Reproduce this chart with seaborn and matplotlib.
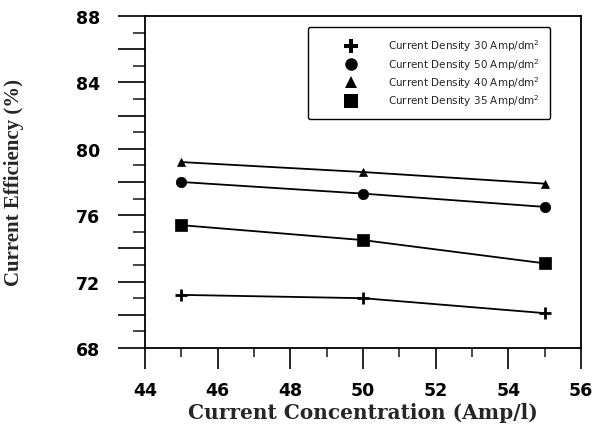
import matplotlib
matplotlib.use("Agg")
import matplotlib.pyplot as plt
from matplotlib.lines import Line2D
from matplotlib.ticker import MultipleLocator, FuncFormatter
import seaborn as sns
import pandas as pd

# ---- data ----
concentration = [45, 50, 55]
cd30 = [71.2, 71.0, 70.1]
cd50 = [78.0, 77.3, 76.5]
cd40 = [79.2, 78.6, 77.9]
cd35 = [75.4, 74.5, 73.1]
series_labels = [
    "Current Density 30 Amp/dm$^2$",
    "Current Density 50 Amp/dm$^2$",
    "Current Density 40 Amp/dm$^2$",
    "Current Density 35 Amp/dm$^2$",
]
series_values = [cd30, cd50, cd40, cd35]
x_ticks = [44, 46, 48, 50, 52, 54, 56]
y_ticks = [68, 72, 76, 80, 84, 88]

# styles
plot_markers = ["+", "o", "^", "s"]
plot_sizes = [9, 7.5, 6, 9]
plot_mew = [2.0, 0.5, 0.5, 0.5]
legend_markers = ["P", "o", "^", "s"]
legend_sizes = [10, 9, 9, 9.5]

sns.set_style("ticks")
plt.rcParams["font.family"] = ["DejaVu Sans"]

fig = plt.figure(figsize=(5.99, 4.27), dpi=100)
ax = fig.add_axes([145 / 599, 1 - 349 / 427, 436 / 599, 332 / 427])

for lab, vals, m, ms, mew in zip(series_labels, series_values, plot_markers,
                                 plot_sizes, plot_mew):
    df = pd.DataFrame({"x": concentration, "y": vals})
    sns.lineplot(data=df, x="x", y="y", ax=ax, color="black", linewidth=1.3,
                 marker=m, markersize=ms, markeredgecolor="black",
                 markerfacecolor="black", markeredgewidth=mew,
                 legend=False)

ax.set_xlim(44, 56)
ax.set_ylim(68, 88)

ax.xaxis.set_major_locator(MultipleLocator(2))
ax.xaxis.set_minor_locator(MultipleLocator(1))
ax.yaxis.set_major_locator(MultipleLocator(2))
ax.yaxis.set_minor_locator(MultipleLocator(1))
ax.yaxis.set_major_formatter(FuncFormatter(lambda v, p: f"{int(round(v))}" if int(round(v)) in y_ticks else ""))
ax.xaxis.set_major_formatter(FuncFormatter(lambda v, p: f"{int(round(v))}" if int(round(v)) in x_ticks else ""))

ax.tick_params(axis="y", which="major", direction="out", length=19.5, width=1.2, pad=13,
               labelsize=12.5, colors="black")
ax.tick_params(axis="y", which="minor", direction="out", length=8.5, width=1.2)
ax.tick_params(axis="x", which="major", direction="out", length=15, width=1.2, pad=8.5,
               labelsize=12.5, colors="black")
ax.tick_params(axis="x", which="minor", direction="out", length=6.5, width=1.2)
for t in ax.get_xticklabels() + ax.get_yticklabels():
    t.set_fontweight("bold")

for s in ax.spines.values():
    s.set_visible(True)
    s.set_linewidth(1.3)
    s.set_color("black")

ax.set_xlabel("Current Concentration (Amp/l)", family=["DejaVu Serif"],
              fontweight="bold", fontsize=14.5)
ax.set_ylabel("Current Efficiency (%)", family=["Liberation Serif"],
              fontweight="bold", fontsize=15)
ax.xaxis.set_label_coords(0.5, -0.162)
ax.yaxis.set_label_coords(-0.277, 0.5)

handles = [Line2D([], [], linestyle="None", marker=m, markersize=ms, color="black",
                  markeredgewidth=0)
           for m, ms in zip(legend_markers, legend_sizes)]
leg = ax.legend(handles, series_labels, loc="upper left",
                bbox_to_anchor=(163 / 436, (349 - 28) / 332), borderaxespad=0,
                fontsize=7.5, frameon=True, fancybox=True, edgecolor="black",
                framealpha=1, borderpad=1.0, handlelength=6.2, handletextpad=0.5,
                labelspacing=0.25)
leg.get_frame().set_linewidth(1.0)

fig.savefig("out.png", dpi=100, facecolor="white")
